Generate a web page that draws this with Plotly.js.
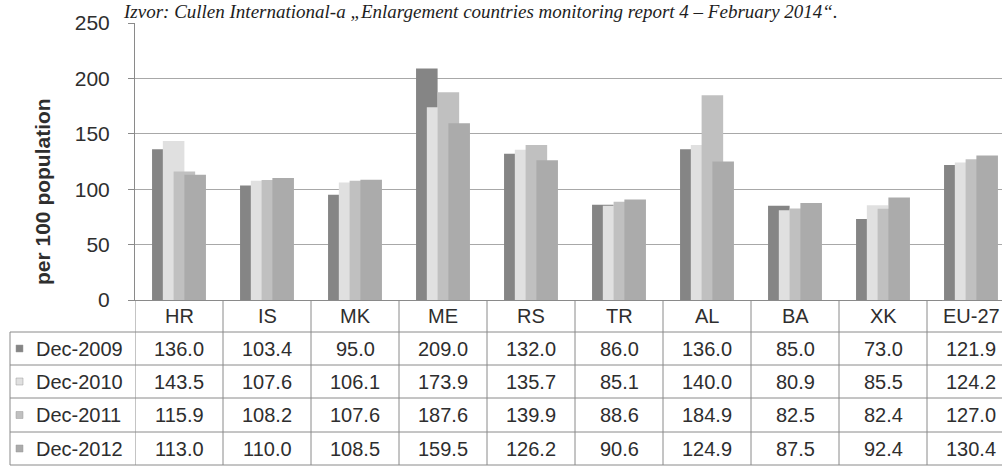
<!DOCTYPE html>
<html>
<head>
<meta charset="utf-8">
<script src="https://cdn.plot.ly/plotly-3.0.1.min.js"></script>
<style>
html,body{margin:0;padding:0;overflow:hidden;background:#fff;width:1002px;height:466px;}
#chart{width:1015px;height:466px;}
</style>
</head>
<body>
<div id="chart"></div>
<script>
const categories = ['HR','IS','MK','ME','RS','TR','AL','BA','XK','EU-27'];
const seriesNames = ['Dec-2009','Dec-2010','Dec-2011','Dec-2012'];
const dec2009 = [136.0,103.4,95.0,209.0,132.0,86.0,136.0,85.0,73.0,121.9];
const dec2010 = [143.5,107.6,106.1,173.9,135.7,85.1,140.0,80.9,85.5,124.2];
const dec2011 = [115.9,108.2,107.6,187.6,139.9,88.6,184.9,82.5,82.4,127.0];
const dec2012 = [113.0,110.0,108.5,159.5,126.2,90.6,124.9,87.5,92.4,130.4];
const yTicks = [0,50,100,150,200,250];
const sourceText = 'Izvor: Cullen International-a \u201eEnlargement countries monitoring report 4 \u2013 February 2014\u201c.';
const yTitle = 'per 100 population';

const seriesValues = [dec2009, dec2010, dec2011, dec2012];
const colors = ['#858585','#e0e0e0','#c0c0c0','#ababab'];

// layout geometry (pixels)
const W = 1015, H = 466;
const L = 135, T = 23, B = 300;
const plotW = W - L, plotH = B - T;
const py = p => (B - p) / plotH;      // pixel y -> paper y
const px = p => (p - L) / plotW;      // pixel x -> paper x
const rowLines = [332, 365, 398, 432, 465];
const rowCenters = [348.5, 381.5, 415, 448.5];
const headerCenter = 316;
const textColor = '#2e2e2e';
const lineColor = '#8a8a8a';

const barW = 0.245, step = barW * 0.5;
const start = -(barW + 3 * step) / 2;

const traces = seriesValues.map((vals, i) => ({
  type: 'bar',
  name: seriesNames[i],
  x: categories,
  y: vals,
  width: barW,
  offset: start + i * step,
  marker: {color: colors[i], line: {width: 0}},
  hoverinfo: 'x+y+name'
}));

const shapes = [];
const annotations = [];

// table horizontal lines
rowLines.forEach(y => {
  shapes.push({type:'line', xref:'paper', yref:'paper', x0: px(10), x1: 1, y0: py(y), y1: py(y),
    line:{color: lineColor, width: 1}});
});
// vertical lines: category boundaries
for (let k = 0; k <= categories.length; k++) {
  shapes.push({type:'line', xref:'x', yref:'paper', x0: k - 0.5, x1: k - 0.5, y0: 0, y1: py(rowLines[rowLines.length-1]),
    line:{color: lineColor, width: 1}});
}
// legend column left border
shapes.push({type:'line', xref:'paper', yref:'paper', x0: px(10), x1: px(10), y0: py(rowLines[0]), y1: py(rowLines[rowLines.length-1]),
  line:{color: lineColor, width: 1}});

// header row
categories.forEach((c, i) => {
  annotations.push({xref:'x', yref:'paper', x: i, y: py(headerCenter), text: c, showarrow:false,
    xanchor:'center', yanchor:'middle', font:{family:'Liberation Sans, Arial, sans-serif', size:20, color:textColor}});
});
// data rows
seriesValues.forEach((vals, r) => {
  shapes.push({type:'rect', xref:'paper', yref:'paper',
    x0: px(16), x1: px(23), y0: py(rowCenters[r] + 3.5), y1: py(rowCenters[r] - 3.5),
    fillcolor: colors[r], line:{color:'#9a9a9a', width: 0.5}});
  annotations.push({xref:'paper', yref:'paper', x: px(34), y: py(rowCenters[r]), text: seriesNames[r], showarrow:false,
    xanchor:'left', yanchor:'middle', font:{family:'Liberation Sans, Arial, sans-serif', size:20, color:textColor}});
  vals.forEach((v, i) => {
    annotations.push({xref:'x', yref:'paper', x: i, y: py(rowCenters[r]), text: v.toFixed(1), showarrow:false,
      xanchor:'center', yanchor:'middle', font:{family:'Liberation Sans, Arial, sans-serif', size:20, color:textColor}});
  });
});
// y axis title
annotations.push({xref:'paper', yref:'paper', x: px(42), y: py(192), text: '<b>' + yTitle + '</b>', showarrow:false,
  textangle:-90, xanchor:'center', yanchor:'middle', font:{family:'Liberation Sans, Arial, sans-serif', size:21, color:textColor}});
// source line at the top
annotations.push({xref:'paper', yref:'paper', x: px(122), y: py(0), text: '<i>' + sourceText + '</i>', showarrow:false,
  xanchor:'left', yanchor:'top', borderpad: 0, font:{family:'Liberation Serif, DejaVu Serif, serif', size:19, color:'#1e1e1e'}});

const layout = {
  width: W, height: H,
  margin: {l: L, r: 0, t: T, b: H - B, pad: 0},
  paper_bgcolor: '#ffffff', plot_bgcolor: '#ffffff',
  barmode: 'overlay',
  showlegend: false,
  xaxis: {type:'category', range: [-0.5, categories.length - 0.5], showticklabels: false, ticks: '',
    showgrid: false, zeroline: false, showline: true, linecolor: lineColor, linewidth: 1, fixedrange: true},
  yaxis: {range: [0, 250], tickvals: yTicks, ticktext: yTicks.map(String), ticks: 'outside', ticklen: 6,
    tickcolor: lineColor, ticklabelstandoff: 14,
    showgrid: true, gridcolor: '#a8a8a8', gridwidth: 1, zeroline: false,
    showline: true, linecolor: lineColor, linewidth: 1,
    tickfont: {family:'Liberation Sans, Arial, sans-serif', size: 21, color: textColor}, fixedrange: true},
  shapes: shapes,
  annotations: annotations
};

Plotly.newPlot('chart', traces, layout, {displayModeBar: false, staticPlot: true});
</script>
</body>
</html>
